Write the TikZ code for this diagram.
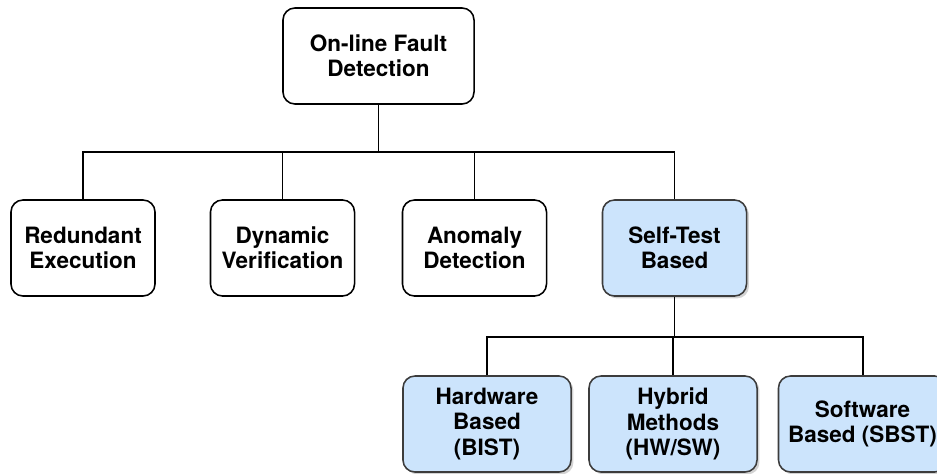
\documentclass[tikz,border=0pt]{standalone}
\usepackage{fontspec}
\setmainfont{TeX Gyre Heros}
\usetikzlibrary{shadows}

\definecolor{stblue}{RGB}{204,228,252}
\definecolor{stedge}{RGB}{60,60,60}

\begin{document}
\begin{tikzpicture}[
    x=0.025cm, y=-0.025cm,
    box/.style={draw, line width=1.1pt, rounded corners=0.3cm,
        minimum width=3.6cm, minimum height=2.4cm, align=center,
        font=\bfseries\fontsize{16}{18}\selectfont},
    leaf/.style={box, draw=stedge, fill=stblue, minimum width=4.2cm,
        drop shadow={shadow xshift=0.06cm, shadow yshift=-0.06cm, opacity=0.35}},
    link/.style={line width=1.4pt}
]

\useasboundingbox (0,0) rectangle (937,473);

% Root
\node[box, minimum width=4.775cm] (root) at (378.5,56) {On-line Fault\\Detection};

% =========================
% Detection approaches
% =========================
\node[box] (redund)  at (83,248)    {Redundant\\Execution};
\node[box] (dynver)  at (282.5,248) {Dynamic\\Verification};
\node[box] (anomaly) at (474.5,248) {Anomaly\\Detection};
\node[leaf, minimum width=3.6cm] (selftest) at (674.5,248) {Self-Test\\Based};

\coordinate (bar1) at (378.5,152);
\draw[link] (root) -- (bar1);
\foreach \n in {redund,dynver,anomaly,selftest}
{
    \draw[link] (bar1) -| (\n.north);
}

% =========================
% Self-test variants
% =========================
\node[leaf] (hwbist) at (487,424)   {Hardware\\Based\\(BIST)};
\node[leaf] (hybrid) at (673,424)   {Hybrid\\Methods\\(HW/SW)};
\node[leaf] (swbst)  at (862.5,424) {Software\\Based (SBST)};

\coordinate (bar2) at (674.5,337);
\draw[link] (selftest) -- (bar2);
\foreach \n in {hwbist,hybrid,swbst}
{
    \draw[link] (bar2) -| (\n.north);
}

\end{tikzpicture}
\end{document}
